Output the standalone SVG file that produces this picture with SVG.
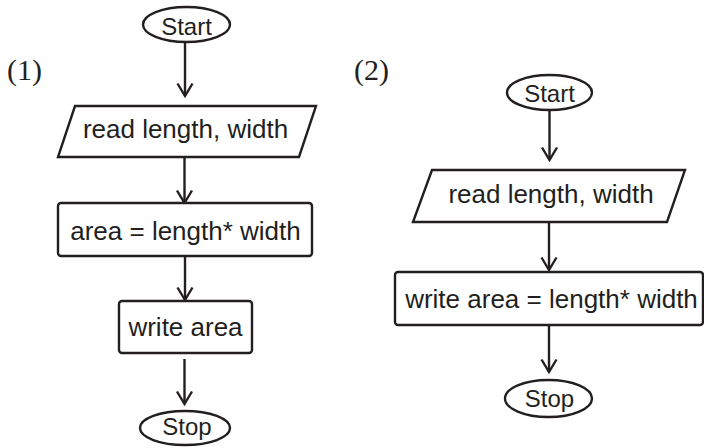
<svg xmlns="http://www.w3.org/2000/svg" width="704" height="448" viewBox="0 0 704 448">
<style>
.shape{fill:#ffffff;stroke:#231f20;stroke-width:2.4}
.t{font-family:"Liberation Sans",Arial,sans-serif;font-size:26px;fill:#231f20;text-anchor:middle}
.te{font-family:"Liberation Sans",Arial,sans-serif;font-size:24px;fill:#231f20;text-anchor:middle}
.lbl{font-family:"Liberation Serif","Times New Roman",serif;font-size:30px;fill:#231f20}
.conn{fill:none;stroke:#231f20;stroke-width:2.4}
</style>
<defs>
<marker id="arr" markerUnits="userSpaceOnUse" markerWidth="20" markerHeight="20" refX="0" refY="0" viewBox="-14 -10 16 20" orient="auto">
<path d="M-12.5,-7.5 L0,0 L-12.5,7.5" fill="none" stroke="#231f20" stroke-width="2.4"/>
</marker>
</defs>
<rect width="704" height="448" fill="#ffffff"/>
<text class="lbl" x="7" y="80">(1)</text>
<text class="lbl" x="354" y="80">(2)</text>
<g id="connectors">
<line class="conn" x1="185" y1="42" x2="185" y2="96" marker-end="url(#arr)"/>
<line class="conn" x1="184.5" y1="157" x2="184.5" y2="203" marker-end="url(#arr)"/>
<line class="conn" x1="185" y1="256" x2="185" y2="300" marker-end="url(#arr)"/>
<line class="conn" x1="184.5" y1="359" x2="184.5" y2="404" marker-end="url(#arr)"/>
<line class="conn" x1="549.5" y1="110" x2="549.5" y2="160" marker-end="url(#arr)"/>
<line class="conn" x1="549" y1="222" x2="549" y2="270" marker-end="url(#arr)"/>
<line class="conn" x1="549" y1="325" x2="549" y2="372" marker-end="url(#arr)"/>
</g>
<g id="start1">
<ellipse class="shape" cx="186.5" cy="24.5" rx="43.5" ry="17.5"/>
<text class="te" x="186.5" y="35">Start</text>
</g>
<g id="read1">
<polygon class="shape" points="75,106 316,106 299,157 58,157"/>
<text class="t" x="185.5" y="138">read length, width</text>
</g>
<g id="calc1">
<rect class="shape" x="58" y="203" width="254" height="53" rx="3"/>
<text class="t" x="185.5" y="240">area = length* width</text>
</g>
<g id="write1">
<rect class="shape" x="119" y="301" width="133" height="52" rx="3"/>
<text class="t" x="185.5" y="336">write area</text>
</g>
<g id="stop1">
<ellipse class="shape" cx="185" cy="428" rx="45" ry="17"/>
<text class="te" x="187" y="435">Stop</text>
</g>
<g id="start2">
<ellipse class="shape" cx="549.5" cy="92.5" rx="42.5" ry="17.5"/>
<text class="te" x="549.5" y="102">Start</text>
</g>
<g id="read2">
<polygon class="shape" points="432,170 685,170 667,222 413,222"/>
<text class="t" x="551" y="203">read length, width</text>
</g>
<g id="write2">
<rect class="shape" x="395" y="272" width="308" height="53" rx="3"/>
<text class="t" x="551.5" y="308">write area = length* width</text>
</g>
<g id="stop2">
<ellipse class="shape" cx="548.5" cy="398.5" rx="43.5" ry="18.5"/>
<text class="te" x="549.5" y="407">Stop</text>
</g>
</svg>
